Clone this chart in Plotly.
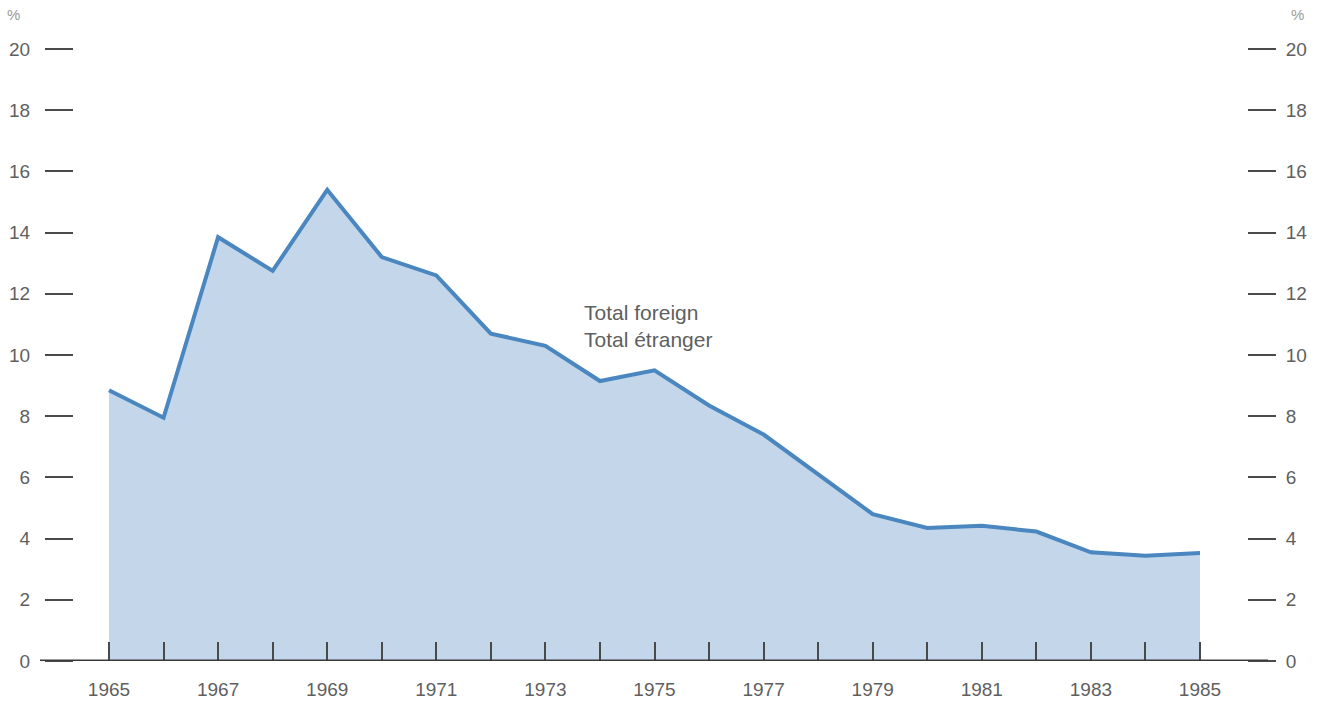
import plotly.graph_objects as go

years = list(range(1965, 1986))
total_foreign = [8.85, 7.95, 13.85, 12.75, 15.4, 13.2, 12.6, 10.7, 10.3, 9.15,
                 9.5, 8.35, 7.4, 6.1, 4.8, 4.35, 4.42, 4.23, 3.55, 3.44, 3.53]
x_labels = [str(y) for y in range(1965, 1986, 2)]
y_ticks = list(range(0, 21, 2))

GRAY = "#5f5f5f"
DARK = "#3a3a3a"
TICKC = "#4a4a4a"
FONT = "Liberation Sans, Arial, Helvetica, sans-serif"

fig = go.Figure()
fig.add_trace(go.Scatter(
    x=years, y=total_foreign, mode="lines", fill="tozeroy",
    fillcolor="rgb(196,215,234)",
    line=dict(color="rgb(74,134,192)", width=4),
    hoverinfo="skip", showlegend=False,
))
# invisible trace for right axis
fig.add_trace(go.Scatter(x=[years[0]], y=[0], yaxis="y2", mode="markers",
                         marker=dict(opacity=0), showlegend=False, hoverinfo="skip"))

L, R, T, B = 74, 73, 41, 40
W, H = 1320, 701
x0_year = 1965 - (109 - L) / 54.55
x1_year = 1985 + (W - R - 1200) / 54.55
y_top = (661 - T) / 30.6

fig.update_layout(
    width=W, height=H,
    margin=dict(l=L, r=R, t=T, b=B, autoexpand=False),
    paper_bgcolor="white", plot_bgcolor="white",
    font=dict(family=FONT, color=GRAY, size=19),
    xaxis=dict(
        range=[x0_year, x1_year], tickmode="array",
        tickvals=[int(v) for v in x_labels], ticktext=x_labels,
        ticks="inside", ticklen=19, tickwidth=2, tickcolor=TICKC,
        minor=dict(tickmode="array", tickvals=years, ticks="inside", ticklen=19,
                   tickwidth=2, tickcolor=TICKC),
        showgrid=False, zeroline=False, showline=False,
        ticklabelstandoff=15, automargin=False,
        tickfont=dict(size=19, color=GRAY, family=FONT),
    ),
    yaxis=dict(
        range=[0, y_top], tickmode="array", tickvals=y_ticks,
        ticks="outside", ticklen=28, tickwidth=2, tickcolor=TICKC,
        showgrid=False, zeroline=False, showline=False,
        ticklabelstandoff=11, automargin=False,
        tickfont=dict(size=19, color=GRAY, family=FONT),
    ),
    yaxis2=dict(
        range=[0, y_top], tickmode="array", tickvals=y_ticks,
        overlaying="y", side="right",
        ticks="outside", ticklen=28, tickwidth=2, tickcolor=TICKC,
        showgrid=False, zeroline=False, showline=False,
        ticklabelstandoff=6, automargin=False,
        tickfont=dict(size=19, color=GRAY, family=FONT),
    ),
)

pw = W - L - R
fig.add_shape(type="line", xref="paper", yref="y",
              x0=(40 - L) / pw, x1=(1268 - L) / pw, y0=0, y1=0,
              line=dict(color=DARK, width=3), layer="above")

fig.add_annotation(x=1973.68, y=10.95, xref="x", yref="y",
                   text="Total foreign<br>Total étranger", showarrow=False,
                   xanchor="left", yanchor="middle", align="left",
                   font=dict(size=21, color=GRAY, family=FONT))
fig.add_annotation(x=(13 - L) / pw, y=1 + (T - 14) / (H - T - B), xref="paper", yref="paper",
                   text="%", showarrow=False, xanchor="center", yanchor="middle",
                   font=dict(size=15, color="#9a9a9a", family=FONT))
fig.add_annotation(x=(1297 - L) / pw, y=1 + (T - 14) / (H - T - B), xref="paper", yref="paper",
                   text="%", showarrow=False, xanchor="center", yanchor="middle",
                   font=dict(size=15, color="#9a9a9a", family=FONT))

fig.write_html("out.html", config={"displayModeBar": False},
               post_script="document.body.style.margin='0';document.body.style.overflow='hidden';")
